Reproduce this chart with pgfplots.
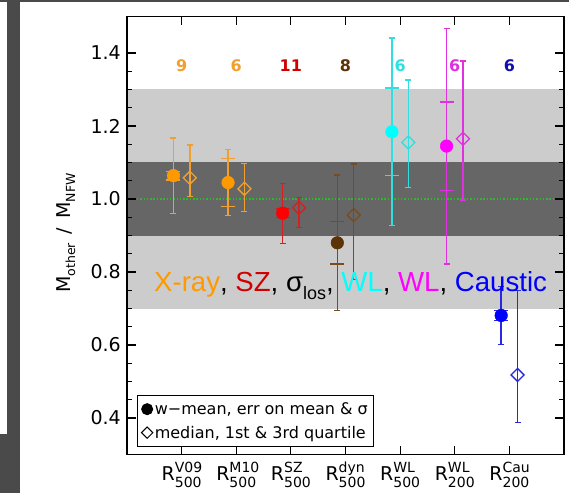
\documentclass[border=0pt]{standalone}
\usepackage{pgfplots}
\pgfplotsset{compat=1.18}
\usepackage{fontspec}
\setmainfont{DejaVu Sans}
\newfontfamily\lib{Liberation Sans}
\definecolor{frame}{HTML}{4A4A4A}
\definecolor{bandL}{HTML}{CCCCCC}
\definecolor{bandD}{HTML}{666666}
\definecolor{cOr}{HTML}{FF9900}
\definecolor{cOrB}{HTML}{F0A030}
\definecolor{cRd}{HTML}{FF0000}
\definecolor{cRdB}{HTML}{D42020}
\definecolor{cRdT}{HTML}{D00000}
\definecolor{cBr}{HTML}{5C3307}
\definecolor{cBrB}{HTML}{7A4A20}
\definecolor{cCy}{HTML}{00FFFF}
\definecolor{cCyB}{HTML}{30E0E0}
\definecolor{cMg}{HTML}{FF00FF}
\definecolor{cMgB}{HTML}{E030E0}
\definecolor{cBl}{HTML}{0000FF}
\definecolor{cBlB}{HTML}{2828E0}
\definecolor{cBlN}{HTML}{1010B0}
\definecolor{gline}{HTML}{2DB82D}
\newcommand\Rlab[2]{R\rlap{\raisebox{7.5pt}{\fontsize{14}{14}\selectfont #1}}\raisebox{-7.5pt}{\fontsize{14}{14}\selectfont #2}}
\pgfplotsset{
  sig/.style={only marks, mark=none, forget plot, line width=1.4pt,
    error bars/y dir=both, error bars/y explicit,
    error bars/error bar style={/tikz/line width=1.4pt, color=#1},
    error bars/error mark options={rotate=90, line width=1.3pt, color=#1, mark size=3pt}},
  merr/.style 2 args={only marks, mark=*, mark size=6.3pt, line width=1.4pt,
    mark options={fill=#1, draw=#1, line width=0.5pt}, forget plot,
    error bars/y dir=both, error bars/y explicit,
    error bars/error bar style={/tikz/line width=1.4pt, color=#2},
    error bars/error mark options={rotate=90, line width=1.3pt, color=#2, mark size=7pt}},
  med/.style 2 args={only marks, mark=square, mark size=4.6pt, line width=1.4pt,
    mark options={rotate=45, draw=#1, fill=#2, line width=1.3pt}, forget plot,
    error bars/y dir=both, error bars/y explicit,
    error bars/error bar style={/tikz/line width=1.4pt, color=#1},
    error bars/error mark options={rotate=90, line width=1.3pt, color=#1, mark size=3pt}},
}
\begin{document}
\begin{tikzpicture}
\useasboundingbox (0,0) rectangle (569pt,493pt);
\fill[white] (0,0) rectangle (569pt,493pt);
\fill[frame] (0,491pt) rectangle (569pt,493pt);
\fill[frame] (7pt,0) rectangle (20pt,493pt);
\fill[frame] (0,0) rectangle (20pt,59pt);
\begin{axis}[at={(127pt,38.5pt)}, anchor=south west, scale only axis,
  width=437pt, height=438pt,
  xmin=0, xmax=8, ymin=0.3, ymax=1.5,
  axis on top, axis line style={line width=1.6pt},
  xtick={1,2,3,4,5,6,7},
  xticklabels={{\Rlab{V09}{500}},{\Rlab{M10}{500}},{\Rlab{SZ}{500}},{\Rlab{dyn}{500}},{\Rlab{WL}{500}},{\Rlab{WL}{200}},{\Rlab{Cau}{200}}},
  ytick={0.4,0.6,0.8,1.0,1.2,1.4}, minor y tick num=3,
  tick style={line width=1.2pt, black}, major tick length=9pt, minor tick length=5pt,
  tick align=inside,
  /pgf/number format/assume math mode=true,
  yticklabel style={/pgf/number format/.cd, fixed, fixed zerofill, precision=1, /tikz/.cd,
    font=\fontsize{19}{19}\selectfont, xshift=-2.7pt},
  xticklabel style={anchor=base, yshift=-25.5pt, font=\fontsize{19}{19}\selectfont},
  legend style={at={(0.0229,0.0171)}, anchor=south west, draw=black, line width=1pt,
    font=\fontsize{16}{18}\selectfont, fill=white, inner xsep=4pt, inner ysep=5pt, row sep=6pt},
  legend cell align=left,
]
\addplot[draw=none, fill=bandL, forget plot] coordinates {(0,0.7) (8,0.7) (8,1.3) (0,1.3)} -- cycle;
\addplot[draw=none, fill=bandD, forget plot] coordinates {(0,0.9) (8,0.9) (8,1.1) (0,1.1)} -- cycle;
\addplot[gline, line width=1.5pt, dash pattern=on 1.5pt off 1.8pt, forget plot] coordinates {(0,1) (8,1)};

% sigma bars of weighted means
\addplot[sig=cOrB] coordinates {(0.85,1.064) +- (0,0.103)};
\addplot[sig=cOrB] coordinates {(1.85,1.045) +- (0,0.091)};
\addplot[sig=cRdB] coordinates {(2.85,0.961) +- (0,0.082)};
\addplot[sig=cBrB] coordinates {(3.85,0.880) +- (0,0.186)};
\addplot[sig=cCyB] coordinates {(4.85,1.184) +- (0,0.257)};
\addplot[sig=cMgB] coordinates {(5.85,1.145) +- (0,0.323)};
\addplot[sig=cBlB] coordinates {(6.85,0.681) +- (0,0.080)};
% error on mean + weighted mean
\addplot[merr={cOr}{cOrB}] coordinates {(0.85,1.064) +- (0,0.012)};
\addplot[merr={cOr}{cOrB}] coordinates {(1.85,1.045) +- (0,0.066)};
\addplot[merr={cRd}{cRdB}] coordinates {(2.85,0.961) +- (0,0.012)};
\addplot[merr={cBr}{cBrB}] coordinates {(3.85,0.880) +- (0,0.058)};
\addplot[merr={cCy}{cCyB}] coordinates {(4.85,1.184) +- (0,0.120)};
\addplot[merr={cMg}{cMgB}] coordinates {(5.85,1.145) +- (0,0.121)};
\addplot[merr={cBl}{cBlB}] coordinates {(6.85,0.681) +- (0,0.014)};
% medians with quartiles
\addplot[med={cOrB}{bandD}] coordinates {(1.15,1.058) += (0,0.090) -= (0,0.052)};
\addplot[med={cOrB}{bandD}] coordinates {(2.15,1.028) += (0,0.070) -= (0,0.062)};
\addplot[med={cRdB}{bandD}] coordinates {(3.15,0.976) += (0,0.029) -= (0,0.054)};
\addplot[med={cBrB}{bandD}] coordinates {(4.15,0.956) += (0,0.140) -= (0,0.176)};
\addplot[med={cCyB}{bandL}] coordinates {(5.15,1.155) += (0,0.171) -= (0,0.123)};
\addplot[med={cMgB}{bandL}] coordinates {(6.15,1.165) += (0,0.213) -= (0,0.168)};
\addplot[med={cBlB}{white}] coordinates {(7.15,0.518) += (0,0.231) -= (0,0.131)};

\addlegendimage{only marks, mark=*, mark size=5.5pt, black}
\addlegendentry{w−mean, err on mean \& σ}
\addlegendimage{only marks, mark=square, mark options={rotate=45, line width=1pt}, mark size=4pt, black}
\addlegendentry{median, 1st \& 3rd quartile}

\node[font=\bfseries\fontsize{16}{16}\selectfont, text=cOrB] at (axis cs:1,1.364) {9};
\node[font=\bfseries\fontsize{16}{16}\selectfont, text=cOrB] at (axis cs:2,1.364) {6};
\node[font=\bfseries\fontsize{16}{16}\selectfont, text=cRdT] at (axis cs:3,1.364) {11};
\node[font=\bfseries\fontsize{16}{16}\selectfont, text=cBr] at (axis cs:4,1.364) {8};
\node[font=\bfseries\fontsize{16}{16}\selectfont, text=cCyB] at (axis cs:5,1.364) {6};
\node[font=\bfseries\fontsize{16}{16}\selectfont, text=cMgB] at (axis cs:6,1.364) {6};
\node[font=\bfseries\fontsize{16}{16}\selectfont, text=cBlN] at (axis cs:7,1.364) {6};

\node[anchor=base west, inner sep=0pt, font=\lib\fontsize{27.6}{28}\selectfont] at (axis cs:0.494,0.746)
 {\textcolor{cOr}{X-ray}, \textcolor{cRdT}{SZ}, σ\raisebox{-8pt}{\fontsize{18}{18}\selectfont los}, \textcolor{cCy}{WL}, \textcolor{cMg}{WL}, \textcolor{cBl}{Caustic}};
\end{axis}
\node[rotate=90, anchor=base, inner sep=0pt, font=\fontsize{19}{19}\selectfont] at (70pt,260pt)
 {M\raisebox{-5pt}{\fontsize{12.5}{12.5}\selectfont other}\hspace{9pt}/\hspace{9pt}M\raisebox{-5pt}{\fontsize{12.5}{12.5}\selectfont NFW}};
\end{tikzpicture}
\end{document}
